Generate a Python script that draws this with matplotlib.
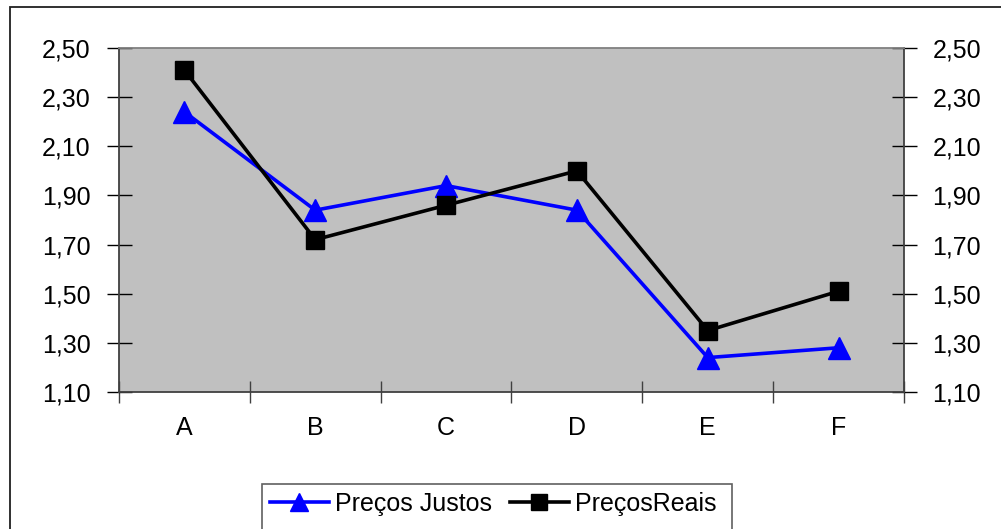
import numpy as np
import matplotlib.pyplot as plt
from matplotlib.ticker import FuncFormatter, FixedLocator
from matplotlib.patches import Rectangle

plt.rcParams['font.family'] = ['Liberation Sans', 'DejaVu Sans']

categorias = ['A', 'B', 'C', 'D', 'E', 'F']
precos_justos = [2.24, 1.84, 1.94, 1.84, 1.24, 1.28]
precos_reais = [2.41, 1.72, 1.86, 2.00, 1.35, 1.51]
y_ticks = [1.10, 1.30, 1.50, 1.70, 1.90, 2.10, 2.30, 2.50]

W, H = 1001, 529
fs = 18
fig = plt.figure(figsize=(W / 100, H / 100), dpi=100)
ax = fig.add_axes([119 / W, 1 - 392 / H, (904 - 119) / W, (392 - 48) / H])
ax.set_facecolor('#C0C0C0')

x = np.arange(len(categorias))
l1, = ax.plot(x, precos_justos, color='#0000FF', lw=2.6, marker='^', ms=16,
              label='Preços Justos', zorder=3)
l2, = ax.plot(x, precos_reais, color='black', lw=2.6, marker='s', ms=13,
              label='PreçosReais', zorder=4)

ax.set_xlim(-0.5, len(categorias) - 0.5)
ax.set_ylim(1.10, 2.50)

# category labels centred, ticks on the boundaries
ax.set_xticks(x)
ax.set_xticklabels(categorias)
ax.xaxis.set_minor_locator(FixedLocator(np.arange(-0.5, len(categorias), 1.0)))
ax.tick_params(axis='x', which='major', length=0, pad=17.5, labelsize=fs)
ax.tick_params(axis='x', which='minor', direction='inout', length=16, width=1,
               color='#404040')

ax.set_yticks(y_ticks)
ax.yaxis.set_major_formatter(FuncFormatter(lambda v, p: f'{v:.2f}'.replace('.', ',')))
ax.tick_params(axis='y', direction='inout', length=18, width=1, pad=11.5,
               labelsize=fs, right=True, labelright=True)

for s in ['left', 'bottom', 'right']:
    ax.spines[s].set_color('#404040')
    ax.spines[s].set_linewidth(1.3)
ax.spines['top'].set_color('#808080')
ax.spines['top'].set_linewidth(1.3)

# outer chart border
fig.patches.append(Rectangle((10 / W, -0.1), 1.2, 1 - 7 / H + 0.1,
                             transform=fig.transFigure, fill=False,
                             edgecolor='#202020', lw=1.3))

# legend box, one entry placed at a time
fig.patches.append(Rectangle((262 / W, -0.1), (732 - 262) / W, 1 - 484 / H + 0.1,
                             transform=fig.transFigure, facecolor='white',
                             edgecolor='#606060', lw=1.2))
for handle, x0 in [(l1, 270), (l2, 510)]:
    leg = fig.legend(handles=[handle], loc='center left',
                     bbox_to_anchor=(x0 / W, 1 - 504 / H), frameon=False,
                     fontsize=fs, handlelength=2.35, handletextpad=0.25,
                     borderaxespad=0, borderpad=0, markerscale=0.85)

fig.savefig('out.png', dpi=100)
